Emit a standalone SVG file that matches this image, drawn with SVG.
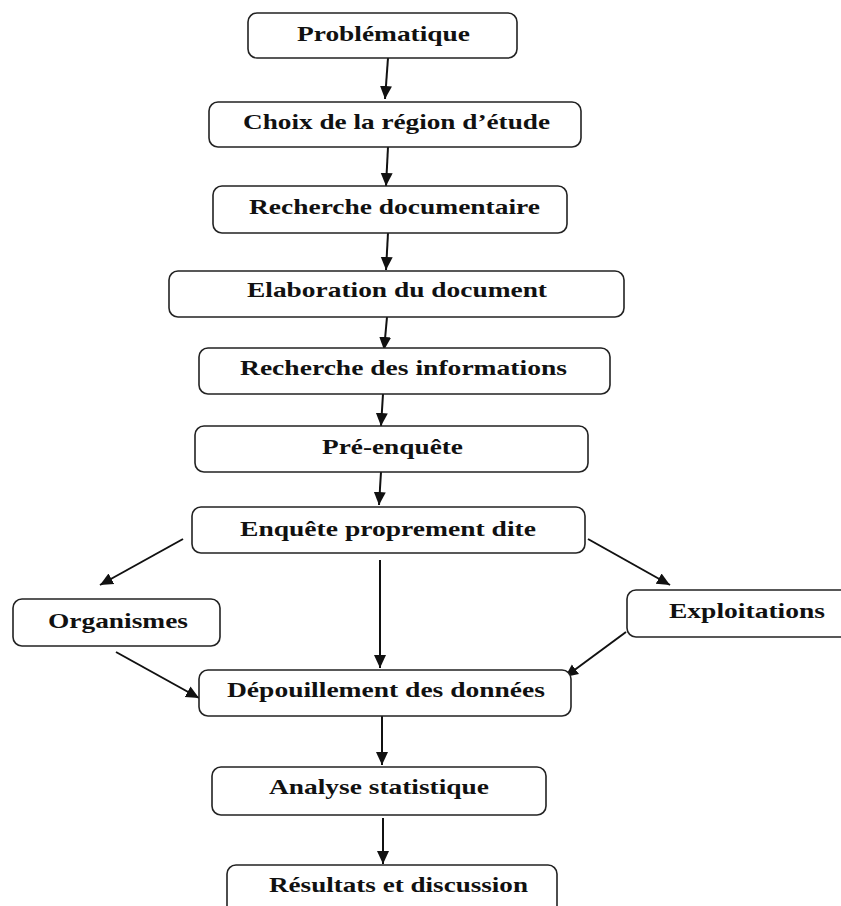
<svg xmlns="http://www.w3.org/2000/svg" width="841" height="906" viewBox="0 0 841 906">
<style>
.box{fill:#fff;stroke:#222;stroke-width:1.6}
.lbl{font-family:"Liberation Serif","Times New Roman",serif;font-weight:bold;font-size:21px;fill:#111;text-anchor:start}
.con{stroke:#111;stroke-width:2;fill:none;marker-end:url(#ah)}
</style>
<defs>
<marker id="ah" markerUnits="userSpaceOnUse" markerWidth="14" markerHeight="14" viewBox="0 0 14 14" refX="13" refY="7" orient="auto">
<path d="M0,1 L13,7 L0,13 Z" fill="#111"/>
</marker>
</defs>
<rect width="841" height="906" fill="#fff"/>
<g id="connectors">
<line class="con" x1="388" y1="58" x2="385" y2="99"/>
<line class="con" x1="388" y1="147" x2="386" y2="186"/>
<line class="con" x1="388" y1="233" x2="386" y2="270"/>
<line class="con" x1="387" y1="317" x2="384" y2="350"/>
<line class="con" x1="383" y1="394" x2="381" y2="426"/>
<line class="con" x1="381" y1="472" x2="379" y2="505"/>
<line class="con" x1="183" y1="539" x2="100" y2="585"/>
<line class="con" x1="588" y1="539" x2="670" y2="585"/>
<line class="con" x1="380" y1="560" x2="380" y2="668"/>
<line class="con" x1="116" y1="652" x2="199" y2="698"/>
<line class="con" x1="626" y1="632" x2="565" y2="677"/>
<line class="con" x1="382" y1="716" x2="382" y2="765"/>
<line class="con" x1="383" y1="818" x2="383" y2="864"/>
</g>
<g id="n1"><rect class="box" x="248" y="13" width="269" height="45" rx="9"/><text class="lbl" x="297" y="41" textLength="173" lengthAdjust="spacingAndGlyphs">Problématique</text></g>
<g id="n2"><rect class="box" x="209" y="102" width="372" height="45" rx="9"/><text class="lbl" x="243" y="129" textLength="307" lengthAdjust="spacingAndGlyphs">Choix de la région d’étude</text></g>
<g id="n3"><rect class="box" x="213" y="186" width="354" height="47" rx="9"/><text class="lbl" x="249" y="214" textLength="291" lengthAdjust="spacingAndGlyphs">Recherche documentaire</text></g>
<g id="n4"><rect class="box" x="169" y="271" width="455" height="46" rx="9"/><text class="lbl" x="247" y="297" textLength="300" lengthAdjust="spacingAndGlyphs">Elaboration du document</text></g>
<g id="n5"><rect class="box" x="199" y="348" width="411" height="46" rx="9"/><text class="lbl" x="240" y="375" textLength="327" lengthAdjust="spacingAndGlyphs">Recherche des informations</text></g>
<g id="n6"><rect class="box" x="195" y="426" width="393" height="46" rx="9"/><text class="lbl" x="322" y="454" textLength="141" lengthAdjust="spacingAndGlyphs">Pré-enquête</text></g>
<g id="n7"><rect class="box" x="192" y="507" width="393" height="46" rx="9"/><text class="lbl" x="240" y="536" textLength="296" lengthAdjust="spacingAndGlyphs">Enquête proprement dite</text></g>
<g id="n8"><rect class="box" x="13" y="599" width="207" height="47" rx="9"/><text class="lbl" x="48" y="628" textLength="140" lengthAdjust="spacingAndGlyphs">Organismes</text></g>
<g id="n9"><rect class="box" x="627" y="590" width="230" height="47" rx="9"/><text class="lbl" x="669" y="618" textLength="156" lengthAdjust="spacingAndGlyphs">Exploitations</text></g>
<g id="n10"><rect class="box" x="199" y="670" width="372" height="46" rx="9"/><text class="lbl" x="227" y="697" textLength="318" lengthAdjust="spacingAndGlyphs">Dépouillement des données</text></g>
<g id="n11"><rect class="box" x="212" y="767" width="334" height="48" rx="9"/><text class="lbl" x="269" y="794" textLength="220" lengthAdjust="spacingAndGlyphs">Analyse statistique</text></g>
<g id="n12"><rect class="box" x="227" y="865" width="330" height="60" rx="9"/><text class="lbl" x="269" y="892" textLength="259" lengthAdjust="spacingAndGlyphs">Résultats et discussion</text></g>
</svg>
